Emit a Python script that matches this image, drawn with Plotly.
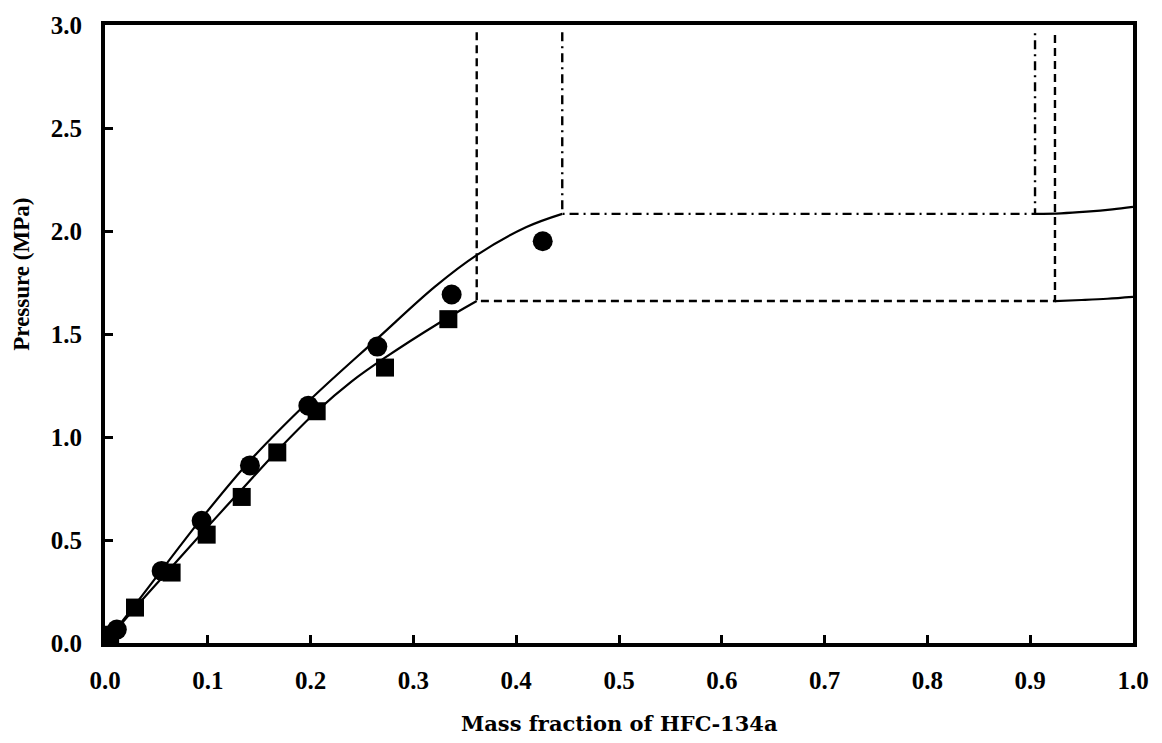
import plotly.graph_objects as go

# Experimental points
circle_x = [0.0115, 0.0551, 0.0940, 0.1410, 0.1978, 0.2649, 0.3372, 0.4258]
circle_y = [0.065, 0.350, 0.593, 0.862, 1.152, 1.439, 1.692, 1.950]
square_x = [0.0050, 0.0292, 0.0648, 0.0989, 0.1330, 0.1676, 0.2059, 0.2724, 0.3340]
square_y = [0.040, 0.172, 0.342, 0.526, 0.709, 0.925, 1.125, 1.337, 1.572]

# Calculated curves
upper_x = [0.0, 0.03, 0.094, 0.141, 0.1994, 0.2643, 0.321, 0.3616, 0.41, 0.4448]
upper_y = [0.0, 0.19, 0.605, 0.885, 1.18, 1.475, 1.73, 1.883, 2.019, 2.083]
lower_x = [0.0, 0.03, 0.065, 0.1, 0.133, 0.168, 0.206, 0.24, 0.2724, 0.3242, 0.3616]
lower_y = [0.0, 0.175, 0.37, 0.565, 0.745, 0.935, 1.125, 1.27, 1.385, 1.551, 1.66]
upper_right_x = [0.9047, 0.93, 0.955, 0.98, 1.0]
upper_right_y = [2.083, 2.086, 2.094, 2.105, 2.117]
lower_right_x = [0.9241, 0.95, 0.975, 1.0]
lower_right_y = [1.660, 1.665, 1.671, 1.680]

# Phase boundaries (dashed) and (dash-dot)
dash_x = [0.3616, 0.3616, 0.9241, 0.9241]
dash_y = [2.965, 1.660, 1.660, 2.965]
dashdot_x = [0.4448, 0.4448, 0.9047, 0.9047]
dashdot_y = [2.965, 2.083, 2.083, 2.965]

x_ticks = [0.0, 0.1, 0.2, 0.3, 0.4, 0.5, 0.6, 0.7, 0.8, 0.9, 1.0]
y_ticks = [0.0, 0.5, 1.0, 1.5, 2.0, 2.5, 3.0]

fig = go.Figure()
fig.add_trace(go.Scatter(x=upper_x, y=upper_y, mode="lines",
                         line=dict(color="black", width=2.2, shape="spline", smoothing=1.0)))
fig.add_trace(go.Scatter(x=lower_x, y=lower_y, mode="lines",
                         line=dict(color="black", width=2.2, shape="spline", smoothing=1.0)))
fig.add_trace(go.Scatter(x=upper_right_x, y=upper_right_y, mode="lines",
                         line=dict(color="black", width=2.2, shape="spline")))
fig.add_trace(go.Scatter(x=lower_right_x, y=lower_right_y, mode="lines",
                         line=dict(color="black", width=2.2, shape="spline")))
fig.add_trace(go.Scatter(x=dash_x, y=dash_y, mode="lines",
                         line=dict(color="black", width=2.4, dash="8px,5px")))
fig.add_trace(go.Scatter(x=dashdot_x, y=dashdot_y, mode="lines",
                         line=dict(color="black", width=2.4, dash="9px,5px,2px,5px")))
fig.add_trace(go.Scatter(x=circle_x, y=circle_y, mode="markers",
                         marker=dict(symbol="circle", size=20, color="black")))
fig.add_trace(go.Scatter(x=square_x, y=square_y, mode="markers",
                         marker=dict(symbol="square", size=18, color="black")))

tick_font = dict(family="Liberation Serif", size=25, color="black", weight="bold")

fig.update_layout(
    width=1162, height=743,
    margin=dict(l=105, r=29, t=17, b=100),
    paper_bgcolor="white", plot_bgcolor="white",
    showlegend=False,
    xaxis=dict(range=[0, 1], tickvals=x_ticks, ticktext=[f"{v:.1f}" for v in x_ticks],
               ticks="inside", ticklen=8, tickwidth=3, tickcolor="black",
               showline=True, linewidth=4, linecolor="black", mirror=True,
               showgrid=False, zeroline=False, tickfont=tick_font, ticklabelstandoff=12),
    yaxis=dict(range=[0, 3], tickvals=y_ticks, ticktext=[f"{v:.1f}" for v in y_ticks],
               ticks="inside", ticklen=8, tickwidth=3, tickcolor="black",
               showline=True, linewidth=4, linecolor="black", mirror=True,
               showgrid=False, zeroline=False, tickfont=tick_font, ticklabelstandoff=14),
    annotations=[
        dict(text="Mass fraction of HFC-134a", xref="paper", yref="paper", x=0.5, y=-0.131,
             xanchor="center", yanchor="middle", showarrow=False,
             font=dict(family="DejaVu Serif", size=21, color="black", weight="bold")),
        dict(text="Pressure (MPa)", xref="paper", yref="paper", x=-0.0807, y=0.596,
             xanchor="center", yanchor="middle", showarrow=False, textangle=-90,
             font=dict(family="Liberation Serif", size=23, color="black", weight="bold")),
    ],
)

fig.write_html("out.html")
